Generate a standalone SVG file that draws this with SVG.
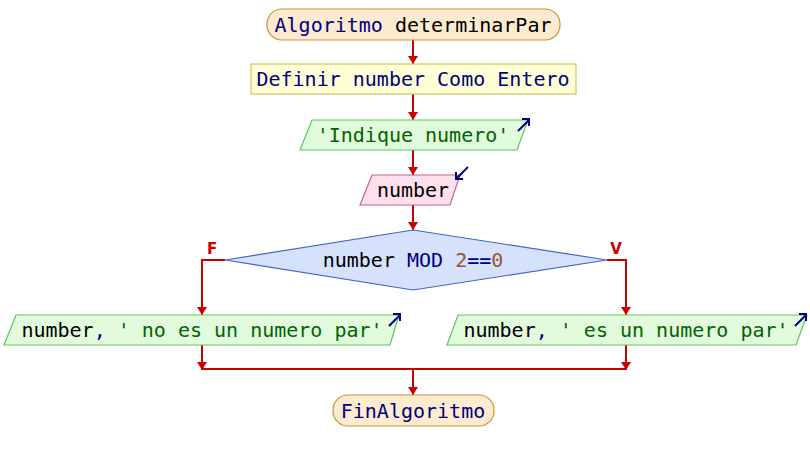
<svg xmlns="http://www.w3.org/2000/svg" width="810" height="460" viewBox="0 0 810 460">
  <style>
    text { font-family: "DejaVu Sans Mono", "Liberation Mono", monospace; font-size: 20px; }
    .term { fill: #fdebcf; stroke: #c8913c; stroke-width: 1.2; }
    .def { fill: #ffffd6; stroke: #c8c864; stroke-width: 1.2; }
    .out { fill: #e2fbdc; stroke: #5ac85a; stroke-width: 1.2; }
    .in { fill: #fde0ec; stroke: #c8609a; stroke-width: 1.2; }
    .dec { fill: #d6e2fc; stroke: #4466c4; stroke-width: 1.2; }
    .kw { fill: #000080; }
    .id { fill: #000000; }
    .str { fill: #006400; }
    .num { fill: #a0522d; }
    .flow { fill: none; stroke: #c80000; stroke-width: 2; }
    .icon { fill: none; stroke: #000080; stroke-width: 2; }
    .lbl { fill: #c80000; font-family: "DejaVu Sans", "Liberation Sans", sans-serif; font-size: 15px; font-weight: bold; }
  </style>
  <defs>
    <!-- red flow arrowhead, drawn along +x so orient="auto" follows the line -->
    <marker id="head" viewBox="0 0 8 10" refX="8" refY="5" markerWidth="8" markerHeight="10" markerUnits="userSpaceOnUse" orient="auto">
      <path d="M0,0 L8,5 L0,10 Z" fill="#c80000"/>
    </marker>
  </defs>

  <g id="connectors">
    <path class="flow" d="M413,40 V64" marker-end="url(#head)"/>
    <path class="flow" d="M413,94 V120" marker-end="url(#head)"/>
    <path class="flow" d="M413,150 V175" marker-end="url(#head)"/>
    <path class="flow" d="M413,205 V230" marker-end="url(#head)"/>
    <path class="flow" d="M225,260 H202 V315" marker-end="url(#head)"/>
    <path class="flow" d="M607,260 H626 V315" marker-end="url(#head)"/>
    <path class="flow" d="M202,345 V370" marker-end="url(#head)"/>
    <path class="flow" d="M626,345 V370" marker-end="url(#head)"/>
    <path class="flow" d="M202,369 H626"/>
    <path class="flow" d="M413,369 V395" marker-end="url(#head)"/>
    <text class="lbl" x="212" y="254" text-anchor="middle">F</text>
    <text class="lbl" x="616" y="254" text-anchor="middle">V</text>
  </g>

  <g id="start">
    <rect class="term" x="267" y="9" width="293" height="31" rx="15" ry="15"/>
    <text x="413" y="32" text-anchor="middle"><tspan class="kw">Algoritmo </tspan><tspan class="id">determinarPar</tspan></text>
  </g>

  <g id="define">
    <rect class="def" x="251" y="64" width="325" height="30"/>
    <text x="413" y="86" text-anchor="middle" class="kw">Definir number Como Entero</text>
  </g>

  <g id="prompt">
    <polygon class="out" points="312,120 528,120 517,150 300,150"/>
    <text x="413" y="142" text-anchor="middle" class="str">'Indique numero'</text>
    <path class="icon" d="M518,131 L529,120 M522,119 L529,119 L529,126"/>
  </g>

  <g id="read">
    <polygon class="in" points="372,175 460,175 450,205 360,205"/>
    <text x="413" y="197" text-anchor="middle" class="id">number</text>
    <path class="icon" d="M468,167 L456,179 M456,172 L456,179 L463,179"/>
  </g>

  <g id="decision">
    <polygon class="dec" points="413,230 607,260 413,290 225,260"/>
    <text x="413" y="267" text-anchor="middle"><tspan class="id">number </tspan><tspan class="kw">MOD </tspan><tspan class="num">2</tspan><tspan class="kw">==</tspan><tspan class="num">0</tspan></text>
  </g>

  <g id="out-odd">
    <polygon class="out" points="16,315 399,315 390,345 4,345"/>
    <text x="202" y="337" text-anchor="middle"><tspan class="id">number</tspan><tspan class="kw">,</tspan><tspan class="str"> ' no es un numero par'</tspan></text>
    <path class="icon" d="M389,326 L400,315 M393,314 L400,314 L400,321"/>
  </g>

  <g id="out-even">
    <polygon class="out" points="458,315 807,315 796,345 447,345"/>
    <text x="626" y="337" text-anchor="middle"><tspan class="id">number</tspan><tspan class="kw">,</tspan><tspan class="str"> ' es un numero par'</tspan></text>
    <path class="icon" d="M795,326 L806,315 M799,314 L806,314 L806,321"/>
  </g>

  <g id="end">
    <rect class="term" x="333" y="395" width="161" height="31" rx="15" ry="15"/>
    <text x="413" y="418" text-anchor="middle" class="kw">FinAlgoritmo</text>
  </g>
</svg>
